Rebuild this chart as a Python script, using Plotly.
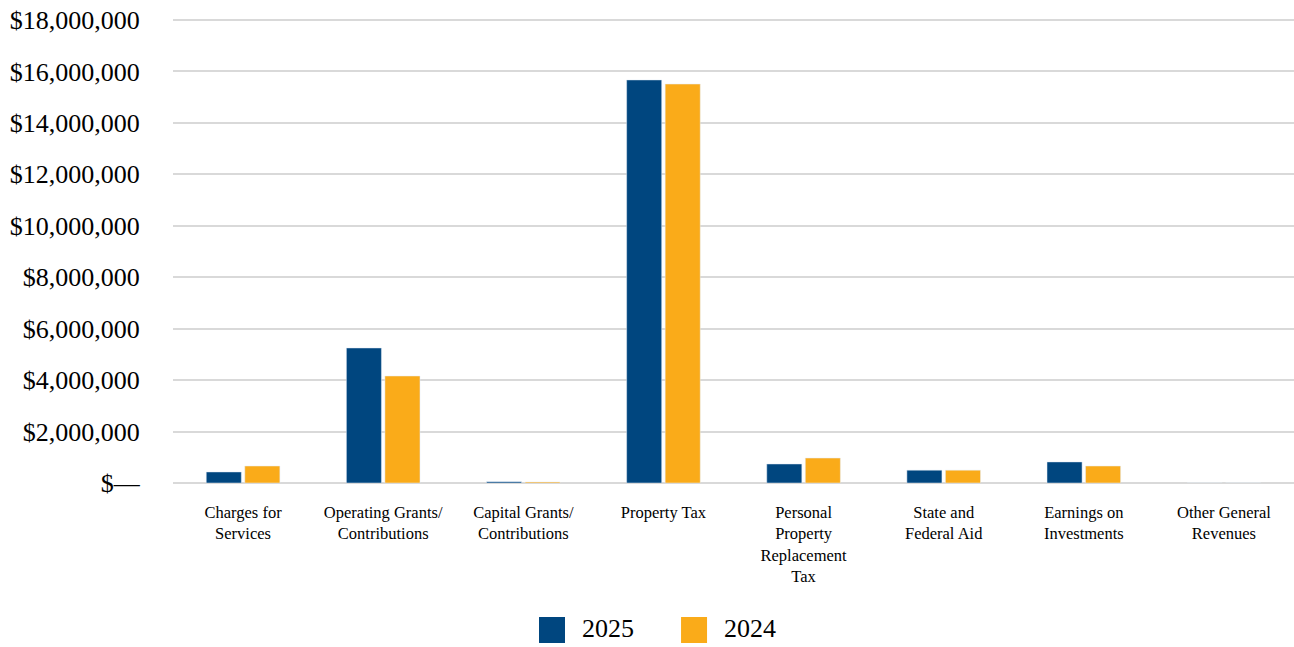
import plotly.graph_objects as go

categories = ["Charges for<br>Services", "Operating Grants/<br>Contributions", "Capital Grants/<br>Contributions",
              "Property Tax", "Personal<br>Property<br>Replacement<br>Tax", "State and<br>Federal Aid",
              "Earnings on<br>Investments", "Other General<br>Revenues"]
series_names = ["2025", "2024"]
values_2025 = [430000, 5250000, 50000, 15670000, 740000, 500000, 820000, 0]
values_2024 = [660000, 4160000, 40000, 15510000, 970000, 500000, 660000, 0]
tick_vals = [0, 2000000, 4000000, 6000000, 8000000, 10000000, 12000000, 14000000, 16000000, 18000000]
tick_text = ["$—", "$2,000,000", "$4,000,000", "$6,000,000", "$8,000,000", "$10,000,000",
             "$12,000,000", "$14,000,000", "$16,000,000", "$18,000,000"]

colors = ["#00467f", "#faab19"]
FONT = "Liberation Serif"

fig = go.Figure()
for name, vals, col in zip(series_names, [values_2025, values_2024], colors):
    fig.add_trace(go.Bar(x=categories, y=vals, name=name, marker_color=col, showlegend=False))

# legend drawn as paper-anchored swatches + text (keeps it from pushing the plot margins)
legend_x = [0.3265, 0.4532]
sw = 0.0232
for lx, name, col in zip(legend_x, series_names, colors):
    fig.add_shape(type="rect", xref="paper", yref="paper", x0=lx, x1=lx + sw, y0=-0.3433, y1=-0.2876,
                  fillcolor=col, line_width=0, layer="above")
    fig.add_annotation(xref="paper", yref="paper", x=lx + sw + 0.0134, y=-0.3133, text=name,
                       showarrow=False, xanchor="left", yanchor="middle",
                       font=dict(size=26, family=FONT, color="black"))

fig.update_layout(
    width=1294, height=647,
    margin=dict(l=173, r=0, t=17, b=164),
    paper_bgcolor="white", plot_bgcolor="white",
    font=dict(family=FONT, color="black"),
    barmode="group", bargap=0.45, bargroupgap=0.09,
    showlegend=False,
)
fig.update_yaxes(range=[0, 18116630], tickvals=tick_vals, ticktext=tick_text, automargin=False,
                 tickfont=dict(size=26, family=FONT), showgrid=True, gridcolor="#d9d9d9", gridwidth=1.5,
                 zeroline=True, zerolinecolor="#d9d9d9", zerolinewidth=1.5,
                 ticks="outside", ticklen=27, tickcolor="rgba(0,0,0,0)", showline=False)
fig.update_xaxes(tickfont=dict(size=16.5, family=FONT), tickangle=0, automargin=False,
                 ticks="outside", ticklen=14, tickcolor="rgba(0,0,0,0)", showline=False)

fig.write_html("out.html", config={"displayModeBar": False},
               post_script="document.body.style.margin='0';document.body.style.overflow='hidden';")
